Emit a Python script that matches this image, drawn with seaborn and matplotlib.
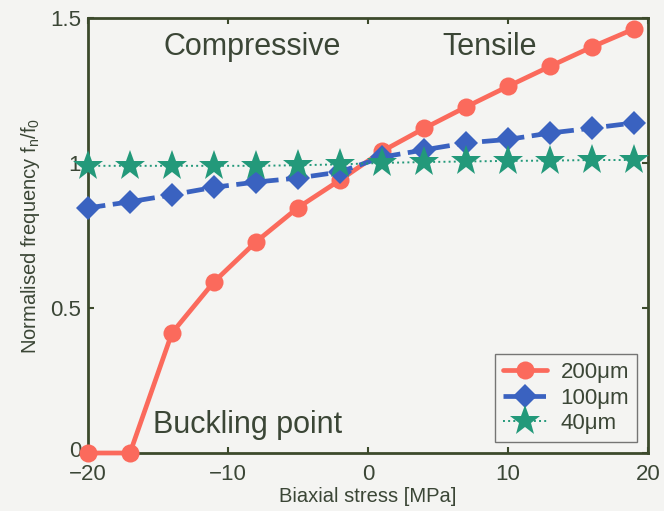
import numpy as np
import pandas as pd
import seaborn as sns
import matplotlib.pyplot as plt
import matplotlib.transforms as mtransforms

# stress values (MPa) shared by all series
stress = [-20, -17, -14, -11, -8, -5, -2, 1, 4, 7, 10, 13, 16, 19]

# normalised frequency
freq_200 = [0.0, 0.0, 0.414, 0.59, 0.728, 0.846, 0.941, 1.04, 1.119, 1.193, 1.264, 1.333, 1.40, 1.462]
freq_100 = [0.845, 0.866, 0.89, 0.916, 0.934, 0.948, 0.969, 1.02, 1.045, 1.069, 1.081, 1.103, 1.12, 1.138]
freq_40 = [0.99, 0.99, 0.99, 0.99, 0.99, 0.992, 0.995, 1.0, 1.003, 1.005, 1.007, 1.008, 1.01, 1.01]

labels = ['200\u03bcm', '100\u03bcm', '40\u03bcm']

sns.set_style('ticks')
plt.rcParams['font.family'] = ['Liberation Sans', 'DejaVu Sans']
plt.rcParams['mathtext.default'] = 'regular'

txt = '#3b4636'
spine = '#3c4a2c'

fig = plt.figure(figsize=(6.64, 5.11), dpi=100)
fig.patch.set_facecolor('#f4f4f2')
ax = fig.add_axes([0.1325, 0.1135, 0.8435, 0.8515])
ax.set_facecolor('#f4f4f2')

sns.lineplot(x=stress, y=freq_200, ax=ax, color='#fb6a5c', lw=3.4, marker='o',
             markersize=13, markeredgewidth=0, label=labels[0], clip_on=False, zorder=5)
sns.lineplot(x=stress, y=freq_100, ax=ax, color='#3a62c0', lw=3.4, linestyle='--',
             marker='D', markersize=12, markeredgewidth=0, label=labels[1], clip_on=False, zorder=5)
sns.lineplot(x=stress, y=freq_40, ax=ax, color='#23997a', lw=1.4, linestyle=':',
             marker='*', markersize=23, markeredgewidth=0, label=labels[2], clip_on=False, zorder=5)

ax.set_xlim(-20, 20)
ax.set_ylim(0, 1.5)
ax.set_xticks([-20, -10, 0, 10, 20])
ax.set_xticklabels(['\u221220', '\u221210', '0', '10', '20'])
ax.set_yticks([0, 0.5, 1, 1.5])
ax.set_yticklabels(['0', '0.5', '1', '1.5'])
ax.tick_params(direction='in', length=4, width=1.5, colors=spine, labelsize=16,
               labelcolor=txt, top=True, right=True)
ax.tick_params(axis='x', pad=8)
ax.tick_params(axis='y', pad=5)
for s in ax.spines.values():
    s.set_color(spine)
    s.set_linewidth(2)

# nudge the y "0" label up a little so it sits above the "-20"
zero_lab = ax.get_yticklabels()[0]
zero_lab.set_transform(zero_lab.get_transform() +
                       mtransforms.ScaledTranslation(0, 3 / 72, fig.dpi_scale_trans))

ax.set_xlabel('Biaxial stress [MPa]', fontsize=14.5, color=txt, labelpad=1)
ax.set_ylabel(r'Normalised frequency f$_{n}$/f$_{0}$', fontsize=14.5, color=txt, labelpad=6)

ax.text(-8.3, 1.4, 'Compressive', fontsize=22, color=txt, ha='center', va='center')
ax.text(8.7, 1.4, 'Tensile', fontsize=22, color=txt, ha='center', va='center')
ax.text(-8.6, 0.097, 'Buckling point', fontsize=22, color=txt, ha='center', va='center')

leg = ax.legend(loc='lower right', fontsize=16, frameon=True, fancybox=False,
                borderaxespad=0.5, handlelength=2.0, labelspacing=0.2,
                borderpad=0.35, handletextpad=0.6)
leg.get_frame().set_edgecolor('#555555')
leg.get_frame().set_facecolor('#f4f4f2')
leg.get_frame().set_linewidth(1)
leg.set_zorder(6)
for t in leg.get_texts():
    t.set_color(txt)

fig.savefig('out.png', dpi=100, facecolor=fig.get_facecolor())
